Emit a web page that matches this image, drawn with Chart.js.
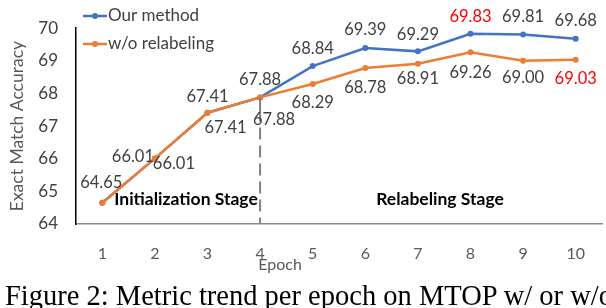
<!DOCTYPE html>
<html>
<head>
<meta charset="utf-8">
<script src="https://cdn.jsdelivr.net/npm/chart.js@4"></script>
<style>
  body { margin: 0; background: #fff; }
  #wrap { position: relative; width: 606px; height: 308px; overflow: hidden; }
  #caption {
    position: absolute; left: 5px; top: 282px; white-space: nowrap;
    font-family: "Liberation Serif", "Times New Roman", serif;
    font-size: 28.5px; line-height: 28px; color: #000;
  }
</style>
</head>
<body>
<div id="wrap">
  <canvas id="chartMtop" width="606" height="308"></canvas>
  <div id="caption">Figure 2: Metric trend per epoch on MTOP w/ or w/o</div>
</div>
<script>
// data dari gambar
const epochs = ['1', '2', '3', '4', '5', '6', '7', '8', '9', '10'];
const ourMethod = [64.65, 66.01, 67.41, 67.88, 68.84, 69.39, 69.29, 69.83, 69.81, 69.68];
const noRelabel = [64.65, 66.01, 67.41, 67.88, 68.29, 68.78, 68.91, 69.26, 69.00, 69.03];
const yTicks = [64, 65, 66, 67, 68, 69, 70];

const BLUE = '#4472C4';
const ORANGE = '#ED7D31';
const FONT = 'Lato, "Open Sans", sans-serif';

// posisi label (dx, dy) relatif ke titik, null = ga ditampilin
const blueLabelPos = [[-1, -20], [-22, -2], [0, -16], [0, -18], [0, -17], [0, -18], [0, -17], [0, -17], [0, -18], [0, -18]];
const orangeLabelPos = [null, [19, 5], [18, 15], [14, 22], [0, 19], [0, 20], [0, 15], [0, 20], [0, 17], [0, 19]];
const blueLabelColor = ['', '', '', '', '', '', '', '#FF0000', '', ''];
const orangeLabelColor = ['', '', '', '', '', '', '', '', '', '#FF0000'];

const extrasPlugin = {
  id: 'extras',
  afterDatasetsDraw(chart) {
    const ctx = chart.ctx;
    const x = chart.scales.x;
    const y = chart.scales.y;
    const area = chart.chartArea;

    // garis putus2 di epoch 4
    const px4 = x.getPixelForValue(3);
    ctx.save();
    ctx.strokeStyle = '#808080';
    ctx.lineWidth = 2;
    ctx.setLineDash([24, 6, 12, 6, 12, 6, 12, 6, 12, 6, 12, 6, 12, 6, 12, 6]);
    ctx.beginPath();
    ctx.moveTo(px4, y.getPixelForValue(ourMethod[3]));
    ctx.lineTo(px4, area.bottom);
    ctx.stroke();
    ctx.restore();

    // label data
    ctx.save();
    ctx.font = '16.5px ' + FONT;
    ctx.textAlign = 'center';
    ctx.textBaseline = 'middle';
    const drawLabels = (dsIndex, values, pos, colors) => {
      const meta = chart.getDatasetMeta(dsIndex);
      meta.data.forEach((pt, i) => {
        if (!pos[i]) return;
        ctx.fillStyle = colors[i] || '#404040';
        ctx.fillText(values[i].toFixed(2), pt.x + pos[i][0], pt.y + pos[i][1]);
      });
    };
    drawLabels(0, ourMethod, blueLabelPos, blueLabelColor);
    drawLabels(1, noRelabel, orangeLabelPos, orangeLabelColor);
    ctx.restore();

    // tulisan stage
    ctx.save();
    ctx.font = 'bold 17.5px ' + FONT;
    ctx.fillStyle = '#000';
    ctx.textAlign = 'center';
    ctx.textBaseline = 'middle';
    ctx.fillText('Initialization Stage', 186, 199);
    ctx.fillText('Relabeling Stage', 440, 199);
    ctx.restore();

    // judul sumbu x (agak ke kiri kayak aslinya)
    ctx.save();
    ctx.font = '16px ' + FONT;
    ctx.fillStyle = '#595959';
    ctx.textAlign = 'center';
    ctx.textBaseline = 'middle';
    ctx.fillText('Epoch', px4 + 20, 265);
    ctx.restore();

    // legend manual
    const items = [['Our method', BLUE, 16], ['w/o relabeling', ORANGE, 44]];
    ctx.save();
    items.forEach(([text, color, ly]) => {
      ctx.strokeStyle = color;
      ctx.lineWidth = 2.5;
      ctx.beginPath();
      ctx.moveTo(83, ly);
      ctx.lineTo(107, ly);
      ctx.stroke();
      ctx.fillStyle = color;
      ctx.beginPath();
      ctx.arc(95, ly, 3, 0, Math.PI * 2);
      ctx.fill();
      ctx.font = '17px ' + FONT;
      ctx.fillStyle = '#404040';
      ctx.textAlign = 'left';
      ctx.textBaseline = 'middle';
      ctx.fillText(text, 108, ly);
    });
    ctx.restore();
  }
};

const chartConfig = {
  type: 'line',
  data: {
    labels: epochs,
    datasets: [
      {
        label: 'Our method',
        data: ourMethod,
        borderColor: BLUE,
        backgroundColor: BLUE,
        borderWidth: 2.5,
        pointRadius: 3,
        pointBorderWidth: 0,
        order: 1
      },
      {
        label: 'w/o relabeling',
        data: noRelabel,
        borderColor: ORANGE,
        backgroundColor: ORANGE,
        borderWidth: 2.5,
        pointRadius: 3,
        pointBorderWidth: 0,
        order: 0
      }
    ]
  },
  options: {
    responsive: false,
    animation: false,
    layout: { padding: { top: 19, right: 3, left: 0, bottom: 0 } },
    plugins: {
      legend: { display: false },
      tooltip: { enabled: false },
      title: { display: false }
    },
    scales: {
      x: {
        offset: true,
        grid: { display: false, drawTicks: false },
        border: { display: true, color: '#8c8c8c', width: 1.5 },
        ticks: { color: '#595959', font: { family: FONT, size: 16 }, padding: 20 },
        afterFit: (scale) => { scale.height = 84; }
      },
      y: {
        min: 64,
        max: 70,
        afterBuildTicks: (scale) => { scale.ticks = yTicks.map(v => ({ value: v })); },
        grid: { display: false, drawTicks: false },
        border: { display: true, color: '#000', width: 1.5 },
        ticks: { color: '#404040', font: { family: FONT, size: 17 }, padding: 18 },
        title: {
          display: true,
          text: 'Exact Match Accuracy',
          color: '#595959',
          font: { family: FONT, size: 17.5 },
          padding: { top: 7, bottom: 0 }
        },
        afterFit: (scale) => { scale.width = 76; }
      }
    }
  },
  plugins: [extrasPlugin]
};

const ctx = document.getElementById('chartMtop');
const chartMtop = new Chart(ctx, chartConfig);
</script>
</body>
</html>
